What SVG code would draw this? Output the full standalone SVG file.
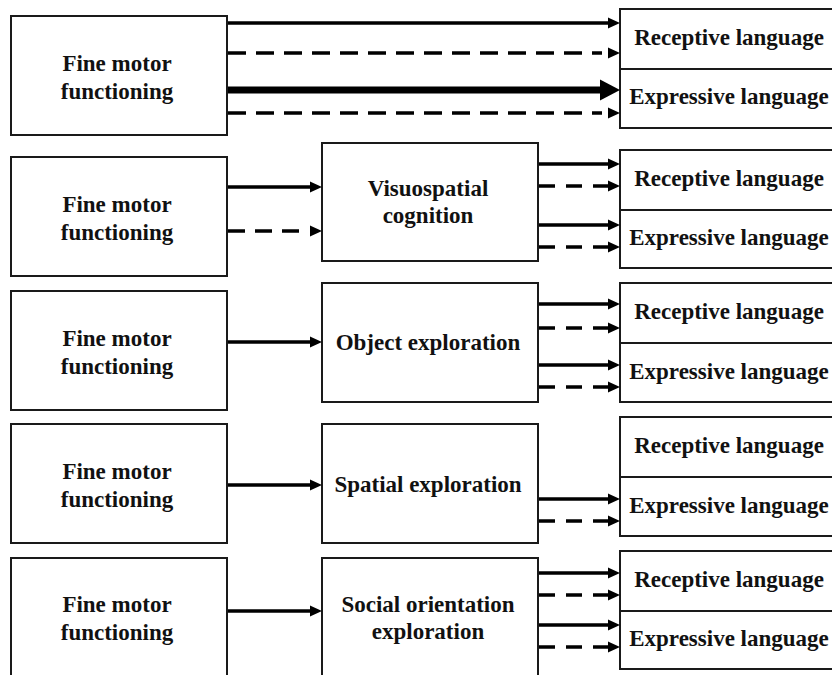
<svg xmlns="http://www.w3.org/2000/svg" width="832" height="675" viewBox="0 0 832 675">
  <defs>
    <style>
      .box { fill: #ffffff; stroke: #1a1a1a; stroke-width: 2; }
      .lbl { font-family: "Liberation Serif", "Times New Roman", serif; font-weight: bold; font-size: 23px; fill: #111111; text-anchor: middle; }
      .ln { stroke: #000000; stroke-width: 3.5; fill: none; }
      .thick { stroke: #000000; stroke-width: 7; fill: none; }
      .dash { stroke-dasharray: 17 10; }
      .dash2 { stroke-dasharray: 16 11; }
      .dash3 { stroke-dasharray: 18 10; }
    </style>
    <!-- arrowhead whose base sits on the line end -->
    <marker id="ah" markerUnits="userSpaceOnUse" viewBox="0 -6 12 12" markerWidth="12" markerHeight="12" refX="0" refY="0" orient="auto">
      <path d="M0,-5.5 L12,0 L0,5.5 Z" fill="#000"/>
    </marker>
    <!-- arrowhead detached from the line end by a small gap -->
    <marker id="ahGap" markerUnits="userSpaceOnUse" viewBox="-6 -6 18 12" markerWidth="18" markerHeight="12" refX="-6" refY="0" orient="auto">
      <path d="M0,-5.5 L12,0 L0,5.5 Z" fill="#000"/>
    </marker>
    <!-- large arrowhead for the bold connector -->
    <marker id="ahBig" markerUnits="userSpaceOnUse" viewBox="0 -11 20 22" markerWidth="20" markerHeight="22" refX="0" refY="0" orient="auto">
      <path d="M0,-10.5 L20,0 L0,10.5 Z" fill="#000"/>
    </marker>
  </defs>

  <rect width="832" height="675" fill="#ffffff"/>

  <!-- Row 1 -->
  <g id="fm1">
    <rect class="box" x="11" y="16" width="216" height="119"/>
    <text class="lbl" x="117" y="71">Fine motor</text>
    <text class="lbl" x="117" y="99">functioning</text>
  </g>
  <g id="lang1">
    <rect class="box" x="620" y="9" width="216" height="60"/>
    <rect class="box" x="620" y="69" width="216" height="59"/>
    <text class="lbl" x="729" y="45">Receptive language</text>
    <text class="lbl" x="729" y="104">Expressive language</text>
  </g>

  <!-- Row 2 -->
  <g id="fm2">
    <rect class="box" x="11" y="157" width="216" height="119"/>
    <text class="lbl" x="117" y="212">Fine motor</text>
    <text class="lbl" x="117" y="240">functioning</text>
  </g>
  <g id="visuospatial">
    <rect class="box" x="322" y="143" width="216" height="118"/>
    <text class="lbl" x="428" y="196">Visuospatial</text>
    <text class="lbl" x="428" y="223">cognition</text>
  </g>
  <g id="lang2">
    <rect class="box" x="620" y="150" width="216" height="60"/>
    <rect class="box" x="620" y="210" width="216" height="58"/>
    <text class="lbl" x="729" y="186">Receptive language</text>
    <text class="lbl" x="729" y="245">Expressive language</text>
  </g>

  <!-- Row 3 -->
  <g id="fm3">
    <rect class="box" x="11" y="291" width="216" height="119"/>
    <text class="lbl" x="117" y="346">Fine motor</text>
    <text class="lbl" x="117" y="374">functioning</text>
  </g>
  <g id="object">
    <rect class="box" x="322" y="283" width="216" height="119"/>
    <text class="lbl" x="428" y="350">Object exploration</text>
  </g>
  <g id="lang3">
    <rect class="box" x="620" y="283" width="216" height="60"/>
    <rect class="box" x="620" y="343" width="216" height="59"/>
    <text class="lbl" x="729" y="319">Receptive language</text>
    <text class="lbl" x="729" y="379">Expressive language</text>
  </g>

  <!-- Row 4 -->
  <g id="fm4">
    <rect class="box" x="11" y="424" width="216" height="119"/>
    <text class="lbl" x="117" y="479">Fine motor</text>
    <text class="lbl" x="117" y="507">functioning</text>
  </g>
  <g id="spatial">
    <rect class="box" x="322" y="424" width="216" height="119"/>
    <text class="lbl" x="428" y="492">Spatial exploration</text>
  </g>
  <g id="lang4">
    <rect class="box" x="620" y="417" width="216" height="60"/>
    <rect class="box" x="620" y="477" width="216" height="59"/>
    <text class="lbl" x="729" y="453">Receptive language</text>
    <text class="lbl" x="729" y="513">Expressive language</text>
  </g>

  <!-- Row 5 -->
  <g id="fm5">
    <rect class="box" x="11" y="558" width="216" height="130"/>
    <text class="lbl" x="117" y="612">Fine motor</text>
    <text class="lbl" x="117" y="640">functioning</text>
  </g>
  <g id="social">
    <rect class="box" x="322" y="558" width="216" height="130"/>
    <text class="lbl" x="428" y="612">Social orientation</text>
    <text class="lbl" x="428" y="639">exploration</text>
  </g>
  <g id="lang5">
    <rect class="box" x="620" y="551" width="216" height="60"/>
    <rect class="box" x="620" y="611" width="216" height="58"/>
    <text class="lbl" x="729" y="587">Receptive language</text>
    <text class="lbl" x="729" y="646">Expressive language</text>
  </g>

  <!-- Connectors -->
  <g id="connectors">
    <!-- row 1: direct paths -->
    <line class="ln" x1="228" y1="23" x2="608" y2="23" marker-end="url(#ah)"/>
    <line class="ln dash3" x1="228" y1="53" x2="602" y2="53" marker-end="url(#ahGap)"/>
    <line class="thick" x1="228" y1="90" x2="600" y2="90" marker-end="url(#ahBig)"/>
    <line class="ln dash3" x1="228" y1="113" x2="602" y2="113" marker-end="url(#ahGap)"/>

    <!-- row 2 -->
    <line class="ln" x1="228" y1="187" x2="310" y2="187" marker-end="url(#ah)"/>
    <line class="ln dash" x1="228" y1="231" x2="304" y2="231" marker-end="url(#ahGap)"/>
    <line class="ln" x1="539" y1="164" x2="608" y2="164" marker-end="url(#ah)"/>
    <line class="ln dash2" x1="539" y1="186" x2="608" y2="186" marker-end="url(#ah)"/>
    <line class="ln" x1="539" y1="225" x2="608" y2="225" marker-end="url(#ah)"/>
    <line class="ln dash2" x1="539" y1="247" x2="608" y2="247" marker-end="url(#ah)"/>

    <!-- row 3 -->
    <line class="ln" x1="228" y1="342" x2="310" y2="342" marker-end="url(#ah)"/>
    <line class="ln" x1="539" y1="304" x2="608" y2="304" marker-end="url(#ah)"/>
    <line class="ln dash2" x1="539" y1="328" x2="608" y2="328" marker-end="url(#ah)"/>
    <line class="ln" x1="539" y1="365" x2="608" y2="365" marker-end="url(#ah)"/>
    <line class="ln dash2" x1="539" y1="387" x2="608" y2="387" marker-end="url(#ah)"/>

    <!-- row 4 -->
    <line class="ln" x1="228" y1="485" x2="310" y2="485" marker-end="url(#ah)"/>
    <line class="ln" x1="539" y1="499" x2="608" y2="499" marker-end="url(#ah)"/>
    <line class="ln dash2" x1="539" y1="521" x2="608" y2="521" marker-end="url(#ah)"/>

    <!-- row 5 -->
    <line class="ln" x1="228" y1="611" x2="310" y2="611" marker-end="url(#ah)"/>
    <line class="ln" x1="539" y1="573" x2="608" y2="573" marker-end="url(#ah)"/>
    <line class="ln dash2" x1="539" y1="595" x2="608" y2="595" marker-end="url(#ah)"/>
    <line class="ln" x1="539" y1="625" x2="608" y2="625" marker-end="url(#ah)"/>
    <line class="ln dash2" x1="539" y1="647" x2="608" y2="647" marker-end="url(#ah)"/>
  </g>
</svg>
